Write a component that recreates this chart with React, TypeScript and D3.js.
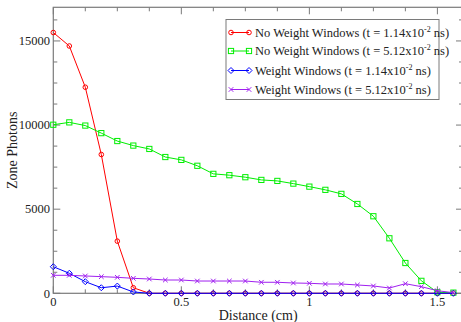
import React from "react";
import * as d3 from "d3";

const distances: number[] = Array.from({ length: 26 }, (_, i) => i * 0.0625);

const noWW114: number[] = [15500, 14700, 12250, 8250, 3100, 330, 0, 0, 0, 0, 0, 0, 0, 0, 0, 0, 0, 0, 0, 0, 0, 0, 0, 0, 0, 0];
const noWW512: number[] = [10020, 10160, 9970, 9520, 9050, 8780, 8580, 8100, 7930, 7580, 7100, 7020, 6900, 6740, 6680, 6520, 6340, 6150, 5910, 5310, 4580, 3270, 1800, 740, 60, 40];
const ww114: number[] = [1580, 1190, 690, 330, 430, 80, 0, 0, 0, 0, 0, 0, 0, 0, 0, 0, 0, 0, 0, 0, 0, 0, 0, 0, 0, 0];
const ww512: number[] = [1070, 1070, 1030, 990, 950, 890, 850, 790, 790, 730, 730, 730, 730, 655, 655, 613, 595, 553, 553, 494, 435, 315, 571, 393, 155, 36];

const seriesNames: string[] = [
  "No Weight Windows (t = 1.14x10",
  "No Weight Windows (t = 5.12x10",
  "Weight Windows (t = 1.14x10",
  "Weight Windows (t = 5.12x10",
];
const seriesColors: string[] = ["#ff0000", "#00ee00", "#0000ff", "#a020f0"];
const seriesSymbols: string[] = ["circle", "square", "diamond", "cross"];

const xTicks: number[] = [0, 0.5, 1, 1.5];
const xTickLabels: string[] = ["0", "0.5", "1", "1.5"];
const yTicks: number[] = [0, 5000, 10000, 15000];
const yTickLabels: string[] = ["0", "5000", "10000", "15000"];

const W = 461;
const H = 322;
const left = 53.3;
const right = 463;
const top = 7.3;
const bottom = 293.3;
const font = "Liberation Serif, Times New Roman, Times, serif";
const axisColor = "#7a7a7a";

function Marker({ type, x, y, color }: { type: string; x: number; y: number; color: string }) {
  if (type === "circle") return <circle cx={x} cy={y} r={2.3} fill="none" stroke={color} strokeWidth={1} />;
  if (type === "square") return <rect x={x - 2.6} y={y - 2.6} width={5.2} height={5.2} fill="none" stroke={color} strokeWidth={1} />;
  if (type === "diamond")
    return <path d={`M${x},${y - 3}L${x + 3},${y}L${x},${y + 3}L${x - 3},${y}Z`} fill="none" stroke={color} strokeWidth={1} />;
  return <path d={`M${x - 2.3},${y - 2.3}L${x + 2.3},${y + 2.3}M${x - 2.3},${y + 2.3}L${x + 2.3},${y - 2.3}`} stroke={color} strokeWidth={1} />;
}

export default function App() {
  const x = d3.scaleLinear().domain([0, 1.6]).range([left, right]);
  const y = d3.scaleLinear().domain([0, 17000]).range([bottom, top]);
  const allSeries = [noWW114, noWW512, ww114, ww512];
  const line = d3
    .line<number>()
    .x((_, i) => x(distances[i]))
    .y((d) => y(d));

  const xMinor = d3.range(0, 1.6001, 0.125);
  const yMinor = d3.range(0, 17001, 1250);

  const legX = 226;
  const legY = 19.5;
  const legW = 213;
  const legH = 80;
  const rowY = [32.5, 51, 70.5, 89.5];

  return (
    <svg width={W} height={H} style={{ position: "absolute", left: 0, top: 0, background: "#fff", fontFamily: font }}>
      {xMinor.map((t, i) => {
        const major = Math.abs(t / 0.5 - Math.round(t / 0.5)) < 1e-6;
        const len = major ? 7 : 4;
        return (
          <g key={"xm" + i} stroke={axisColor} strokeWidth={1}>
            <line x1={x(t)} x2={x(t)} y1={bottom} y2={bottom - len} />
            <line x1={x(t)} x2={x(t)} y1={top} y2={top + len} />
          </g>
        );
      })}
      {yMinor.map((t, i) => {
        const major = t % 5000 === 0;
        const len = major ? 7 : 4;
        return (
          <g key={"ym" + i} stroke={axisColor} strokeWidth={1}>
            <line x1={left} x2={left + len} y1={y(t)} y2={y(t)} />
            <line x1={right} x2={right - len} y1={y(t)} y2={y(t)} />
          </g>
        );
      })}
      <rect x={left} y={top} width={right - left} height={bottom - top} fill="none" stroke={axisColor} strokeWidth={1.2} />

      {xTicks.map((t, i) => (
        <text key={"xt" + i} x={x(t)} y={306} fontSize={12.5} textAnchor="middle" fill="#222">
          {xTickLabels[i]}
        </text>
      ))}
      {yTicks.map((t, i) => (
        <text key={"yt" + i} x={50} y={y(t) + 4.3} fontSize={12.5} textAnchor="end" fill="#222">
          {yTickLabels[i]}
        </text>
      ))}
      <text x={(left + right) / 2} y={320} fontSize={14} textAnchor="middle" fill="#222">
        Distance (cm)
      </text>
      <text transform={`translate(17,${(top + bottom) / 2}) rotate(-90)`} fontSize={14} textAnchor="middle" fill="#222">
        Zone Photons
      </text>

      {allSeries.map((s, k) => (
        <g key={"s" + k}>
          <path d={line(s) || ""} fill="none" stroke={seriesColors[k]} strokeWidth={1} />
          {s.map((v, i) => (
            <Marker key={i} type={seriesSymbols[k]} x={x(distances[i])} y={y(v)} color={seriesColors[k]} />
          ))}
        </g>
      ))}

      <rect x={legX} y={legY} width={legW} height={legH} fill="#fff" stroke={axisColor} strokeWidth={1} />
      {seriesNames.map((n, k) => (
        <g key={"l" + k}>
          <line x1={231} x2={249} y1={rowY[k]} y2={rowY[k]} stroke={seriesColors[k]} strokeWidth={1} />
          <Marker type={seriesSymbols[k]} x={231} y={rowY[k]} color={seriesColors[k]} />
          <Marker type={seriesSymbols[k]} x={249} y={rowY[k]} color={seriesColors[k]} />
          <text x={255} y={rowY[k] + 4} fontSize={12.5} fill="#222">
            {n}
            <tspan fontSize={8} dy={-5}>-2</tspan>
            <tspan dy={5}> ns)</tspan>
          </text>
        </g>
      ))}
    </svg>
  );
}
